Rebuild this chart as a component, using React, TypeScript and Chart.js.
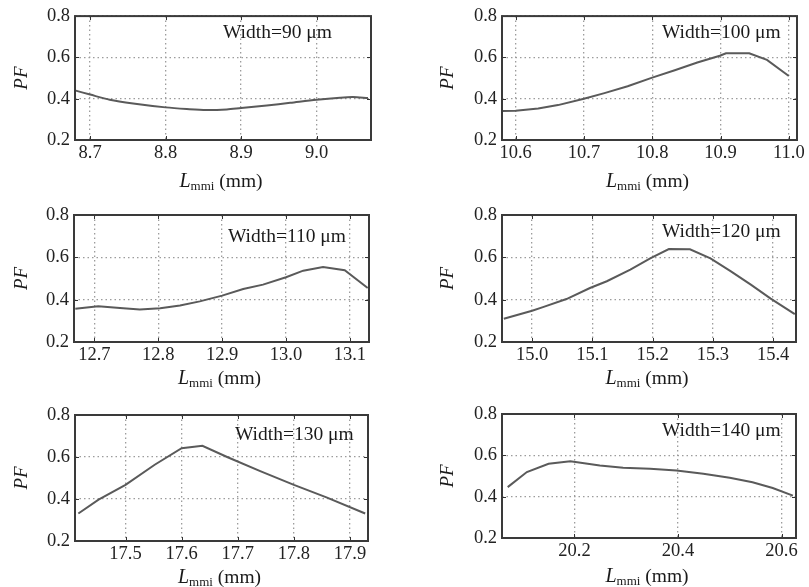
import React, { useEffect, useRef } from 'react';
import { Chart, registerables } from 'chart.js';

Chart.register(...registerables);

// ---------- data ----------
const yTickValues = [0.2, 0.4, 0.6, 0.8];

const w90X = [8.681, 8.70, 8.726, 8.757, 8.80, 8.828, 8.854, 8.881, 8.90, 8.934, 8.965, 9.0, 9.031, 9.048, 9.068];
const w90Y = [0.439, 0.420, 0.395, 0.377, 0.358, 0.350, 0.345, 0.348, 0.355, 0.367, 0.380, 0.395, 0.405, 0.408, 0.403];
const w90Ticks = [8.7, 8.8, 8.9, 9.0];

const w100X = [10.58, 10.60, 10.633, 10.662, 10.70, 10.73, 10.764, 10.80, 10.833, 10.866, 10.899, 10.908, 10.942, 10.968, 11.0];
const w100Y = [0.340, 0.342, 0.353, 0.369, 0.400, 0.427, 0.460, 0.502, 0.538, 0.575, 0.608, 0.620, 0.620, 0.588, 0.510];
const w100Ticks = [10.6, 10.7, 10.8, 10.9, 11.0];

const w110X = [12.670, 12.706, 12.740, 12.771, 12.803, 12.834, 12.865, 12.900, 12.933, 12.964, 13.000, 13.027, 13.058, 13.092, 13.128];
const w110Y = [0.357, 0.369, 0.361, 0.353, 0.359, 0.372, 0.392, 0.419, 0.450, 0.471, 0.506, 0.537, 0.554, 0.539, 0.455];
const w110Ticks = [12.7, 12.8, 12.9, 13.0, 13.1];

const w120X = [14.953, 15.0, 15.018, 15.057, 15.096, 15.124, 15.163, 15.196, 15.227, 15.262, 15.296, 15.33, 15.363, 15.396, 15.436];
const w120Y = [0.310, 0.348, 0.365, 0.403, 0.455, 0.487, 0.542, 0.595, 0.639, 0.638, 0.595, 0.534, 0.471, 0.405, 0.332];
const w120Ticks = [15.0, 15.1, 15.2, 15.3, 15.4];

const w130X = [17.416, 17.452, 17.50, 17.552, 17.60, 17.637, 17.681, 17.74, 17.80, 17.858, 17.927];
const w130Y = [0.331, 0.397, 0.467, 0.563, 0.642, 0.653, 0.600, 0.533, 0.467, 0.408, 0.331];
const w130Ticks = [17.5, 17.6, 17.7, 17.8, 17.9];

const w140X = [20.071, 20.108, 20.15, 20.192, 20.249, 20.294, 20.346, 20.397, 20.449, 20.50, 20.544, 20.583, 20.622];
const w140Y = [0.446, 0.519, 0.559, 0.571, 0.551, 0.540, 0.535, 0.527, 0.511, 0.491, 0.470, 0.442, 0.405];
const w140Ticks = [20.2, 20.4, 20.6];

const panelLabels = ['Width=90 μm', 'Width=100 μm', 'Width=110 μm', 'Width=120 μm', 'Width=130 μm', 'Width=140 μm'];

// ---------- layout ----------
const W = 809;
const H = 587;
const Y_AXIS_W = 40;
const X_AXIS_H = 30;

type Panel = {
  xs: number[]; ys: number[]; ticks: number[]; min: number; max: number; label: string; tension: number;
  frame: { l: number; r: number; t: number; b: number };
  lx: number; ly: number; pfx: number; ty: number;
};

const panels: Panel[] = [
  { xs: w90X, ys: w90Y, ticks: w90Ticks, min: 8.68, max: 9.072, label: panelLabels[0], tension: 0.3,
    frame: { l: 75, r: 371, t: 13, b: 140 }, lx: 223, ly: 33, pfx: 22, ty: 181 },
  { xs: w100X, ys: w100Y, ticks: w100Ticks, min: 10.58, max: 11.012, label: panelLabels[1], tension: 0,
    frame: { l: 502, r: 797, t: 13, b: 140 }, lx: 662, ly: 33, pfx: 448, ty: 181 },
  { xs: w110X, ys: w110Y, ticks: w110Ticks, min: 12.668, max: 13.13, label: panelLabels[2], tension: 0,
    frame: { l: 74, r: 369, t: 215, b: 342 }, lx: 228, ly: 237, pfx: 22, ty: 378 },
  { xs: w120X, ys: w120Y, ticks: w120Ticks, min: 14.95, max: 15.438, label: panelLabels[3], tension: 0,
    frame: { l: 502, r: 796, t: 215, b: 342 }, lx: 662, ly: 232, pfx: 448, ty: 378 },
  { xs: w130X, ys: w130Y, ticks: w130Ticks, min: 17.41, max: 17.932, label: panelLabels[4], tension: 0,
    frame: { l: 75, r: 368, t: 415, b: 541 }, lx: 235, ly: 435, pfx: 22, ty: 577 },
  { xs: w140X, ys: w140Y, ticks: w140Ticks, min: 20.06, max: 20.628, label: panelLabels[5], tension: 0,
    frame: { l: 502, r: 796, t: 414, b: 538 }, lx: 662, ly: 431, pfx: 448, ty: 576 },
];

const SERIF = '"Liberation Serif", "Times New Roman", serif';

const decor = {
  id: 'decor',
  afterDraw(chart: any, _args: any, opts: any) {
    const { ctx, chartArea: a } = chart;
    const xs = chart.scales.x;
    const ys = chart.scales.y;
    ctx.save();
    // inward tick marks
    ctx.strokeStyle = '#333';
    ctx.lineWidth = 1;
    ctx.beginPath();
    xs.ticks.forEach((t: any) => {
      const px = Math.round(xs.getPixelForValue(t.value)) + 0.5;
      ctx.moveTo(px, a.bottom); ctx.lineTo(px, a.bottom - 4);
      ctx.moveTo(px, a.top); ctx.lineTo(px, a.top + 4);
    });
    ys.ticks.forEach((t: any) => {
      const py = Math.round(ys.getPixelForValue(t.value)) + 0.5;
      ctx.moveTo(a.left, py); ctx.lineTo(a.left + 4, py);
      ctx.moveTo(a.right, py); ctx.lineTo(a.right - 4, py);
    });
    ctx.stroke();
    // frame
    ctx.strokeStyle = '#3a3a3a';
    ctx.lineWidth = 2;
    ctx.strokeRect(a.left, a.top, a.right - a.left, a.bottom - a.top);

    ctx.fillStyle = '#1a1a1a';
    // width label
    ctx.font = `19.5px ${SERIF}`;
    ctx.textAlign = 'left';
    ctx.textBaseline = 'middle';
    ctx.fillText(opts.label, opts.lx, opts.ly);

    // x title: L_mmi (mm)
    const cx = (a.left + a.right) / 2 - 2;
    ctx.textBaseline = 'alphabetic';
    ctx.font = `italic 20px ${SERIF}`;
    const wL = ctx.measureText('L').width;
    ctx.font = `13px ${SERIF}`;
    const wS = ctx.measureText('mmi').width;
    ctx.font = `19.5px ${SERIF}`;
    const wM = ctx.measureText(' (mm)').width;
    let x0 = cx - (wL + wS + wM) / 2;
    const base = opts.ty + 6;
    ctx.font = `italic 20px ${SERIF}`;
    ctx.fillText('L', x0, base);
    x0 += wL;
    ctx.font = `13px ${SERIF}`;
    ctx.fillText('mmi', x0, base + 3);
    x0 += wS;
    ctx.font = `19.5px ${SERIF}`;
    ctx.fillText(' (mm)', x0, base);

    // y title PF
    ctx.translate(opts.pfx, (a.top + a.bottom) / 2);
    ctx.rotate(-Math.PI / 2);
    ctx.font = `italic 19px ${SERIF}`;
    ctx.textAlign = 'center';
    ctx.textBaseline = 'middle';
    ctx.fillText('PF', 0, 0);
    ctx.restore();
  },
};

function PanelChart({ p }: { p: Panel }) {
  const ref = useRef<HTMLCanvasElement | null>(null);
  useEffect(() => {
    if (!ref.current) return;
    const tickFont = { family: SERIF, size: 18.5 };
    const gridOpts = { color: '#9c9c9c', lineWidth: 1.3, drawTicks: false };
    const chart = new Chart(ref.current, {
      type: 'line',
      data: {
        datasets: [
          {
            data: p.xs.map((x, i) => ({ x, y: p.ys[i] })),
            borderColor: '#5a5a5a',
            borderWidth: 2,
            pointRadius: 0,
            tension: p.tension,
            fill: false,
          },
        ],
      },
      options: {
        animation: false,
        responsive: false,
        events: [],
        layout: {
          padding: {
            left: p.frame.l - Y_AXIS_W,
            right: W - p.frame.r,
            top: p.frame.t,
            bottom: H - p.frame.b - X_AXIS_H,
          },
        },
        plugins: {
          legend: { display: false },
          tooltip: { enabled: false },
          decor: { label: p.label, lx: p.lx, ly: p.ly, pfx: p.pfx, ty: p.ty },
        } as any,
        scales: {
          x: {
            type: 'linear',
            min: p.min,
            max: p.max,
            afterBuildTicks: (s: any) => { s.ticks = p.ticks.map((v) => ({ value: v })); },
            afterFit: (s: any) => { s.height = X_AXIS_H; },
            ticks: {
              callback: (v: any) => Number(v).toFixed(1),
              font: tickFont,
              color: '#222',
              padding: 2,
              maxRotation: 0,
              autoSkip: false,
            },
            grid: gridOpts,
            border: { display: false, dash: [1.5, 3] },
          },
          y: {
            type: 'linear',
            min: 0.2,
            max: 0.8,
            afterBuildTicks: (s: any) => { s.ticks = yTickValues.map((v) => ({ value: v })); },
            afterFit: (s: any) => { s.width = Y_AXIS_W; },
            ticks: {
              callback: (v: any) => Number(v).toFixed(1),
              font: tickFont,
              color: '#222',
              padding: 5,
            },
            grid: gridOpts,
            border: { display: false, dash: [1.5, 3] },
          },
        },
      } as any,
      plugins: [decor],
    });
    return () => chart.destroy();
  }, [p]);
  return (
    <canvas
      ref={ref}
      width={W}
      height={H}
      style={{ position: 'absolute', left: 0, top: 0, width: W, height: H }}
    />
  );
}

export default function App() {
  return (
    <div style={{ position: 'absolute', left: 0, top: 0, width: W, height: H, background: '#fff', overflow: 'hidden' }}>
      {panels.map((p, i) => (
        <PanelChart key={i} p={p} />
      ))}
    </div>
  );
}
